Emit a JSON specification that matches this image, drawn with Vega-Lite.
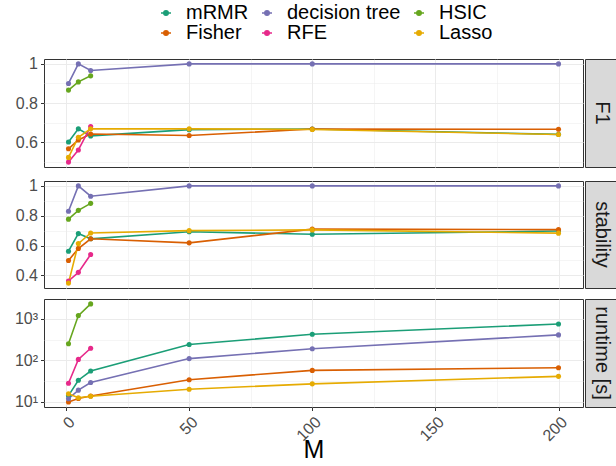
{
  "$schema": "https://vega.github.io/schema/vega-lite/v6.json",
  "padding": {"left": 13, "top": 3, "right": 1, "bottom": 2},
  "autosize": {"type": "pad"},
  "background": "white",
  "datasets": {
    "F1": [
      {"method": "mRMR", "M": 1, "value": 0.601}, {"method": "mRMR", "M": 5, "value": 0.668}, {"method": "mRMR", "M": 10, "value": 0.632}, {"method": "mRMR", "M": 50, "value": 0.664}, {"method": "mRMR", "M": 100, "value": 0.667}, {"method": "mRMR", "M": 200, "value": 0.640},
      {"method": "Fisher", "M": 1, "value": 0.566}, {"method": "Fisher", "M": 5, "value": 0.611}, {"method": "Fisher", "M": 10, "value": 0.642}, {"method": "Fisher", "M": 50, "value": 0.634}, {"method": "Fisher", "M": 100, "value": 0.667}, {"method": "Fisher", "M": 200, "value": 0.666},
      {"method": "decision tree", "M": 1, "value": 0.900}, {"method": "decision tree", "M": 5, "value": 1.0}, {"method": "decision tree", "M": 10, "value": 0.966}, {"method": "decision tree", "M": 50, "value": 1.0}, {"method": "decision tree", "M": 100, "value": 1.0}, {"method": "decision tree", "M": 200, "value": 1.0},
      {"method": "RFE", "M": 1, "value": 0.498}, {"method": "RFE", "M": 5, "value": 0.560}, {"method": "RFE", "M": 10, "value": 0.680},
      {"method": "HSIC", "M": 1, "value": 0.866}, {"method": "HSIC", "M": 5, "value": 0.908}, {"method": "HSIC", "M": 10, "value": 0.939},
      {"method": "Lasso", "M": 1, "value": 0.522}, {"method": "Lasso", "M": 5, "value": 0.625}, {"method": "Lasso", "M": 10, "value": 0.668}, {"method": "Lasso", "M": 50, "value": 0.668}, {"method": "Lasso", "M": 100, "value": 0.665}, {"method": "Lasso", "M": 200, "value": 0.639}
    ],
    "stability": [
      {"method": "mRMR", "M": 1, "value": 0.562}, {"method": "mRMR", "M": 5, "value": 0.680}, {"method": "mRMR", "M": 10, "value": 0.645}, {"method": "mRMR", "M": 50, "value": 0.692}, {"method": "mRMR", "M": 100, "value": 0.676}, {"method": "mRMR", "M": 200, "value": 0.697},
      {"method": "Fisher", "M": 1, "value": 0.500}, {"method": "Fisher", "M": 5, "value": 0.580}, {"method": "Fisher", "M": 10, "value": 0.645}, {"method": "Fisher", "M": 50, "value": 0.618}, {"method": "Fisher", "M": 100, "value": 0.710}, {"method": "Fisher", "M": 200, "value": 0.707},
      {"method": "decision tree", "M": 1, "value": 0.830}, {"method": "decision tree", "M": 5, "value": 1.0}, {"method": "decision tree", "M": 10, "value": 0.931}, {"method": "decision tree", "M": 50, "value": 1.0}, {"method": "decision tree", "M": 100, "value": 1.0}, {"method": "decision tree", "M": 200, "value": 1.0},
      {"method": "RFE", "M": 1, "value": 0.362}, {"method": "RFE", "M": 5, "value": 0.420}, {"method": "RFE", "M": 10, "value": 0.540},
      {"method": "HSIC", "M": 1, "value": 0.777}, {"method": "HSIC", "M": 5, "value": 0.836}, {"method": "HSIC", "M": 10, "value": 0.883},
      {"method": "Lasso", "M": 1, "value": 0.348}, {"method": "Lasso", "M": 5, "value": 0.613}, {"method": "Lasso", "M": 10, "value": 0.684}, {"method": "Lasso", "M": 50, "value": 0.700}, {"method": "Lasso", "M": 100, "value": 0.705}, {"method": "Lasso", "M": 200, "value": 0.683}
    ],
    "runtime": [
      {"method": "mRMR", "M": 1, "value": 14}, {"method": "mRMR", "M": 5, "value": 33}, {"method": "mRMR", "M": 10, "value": 55}, {"method": "mRMR", "M": 50, "value": 240}, {"method": "mRMR", "M": 100, "value": 425}, {"method": "mRMR", "M": 200, "value": 750},
      {"method": "Fisher", "M": 1, "value": 9.8}, {"method": "Fisher", "M": 5, "value": 12}, {"method": "Fisher", "M": 10, "value": 13.7}, {"method": "Fisher", "M": 50, "value": 34}, {"method": "Fisher", "M": 100, "value": 57}, {"method": "Fisher", "M": 200, "value": 66},
      {"method": "decision tree", "M": 1, "value": 11.8}, {"method": "decision tree", "M": 5, "value": 19}, {"method": "decision tree", "M": 10, "value": 29}, {"method": "decision tree", "M": 50, "value": 110}, {"method": "decision tree", "M": 100, "value": 190}, {"method": "decision tree", "M": 200, "value": 410},
      {"method": "RFE", "M": 1, "value": 28}, {"method": "RFE", "M": 5, "value": 105}, {"method": "RFE", "M": 10, "value": 195},
      {"method": "HSIC", "M": 1, "value": 250}, {"method": "HSIC", "M": 5, "value": 1200}, {"method": "HSIC", "M": 10, "value": 2300},
      {"method": "Lasso", "M": 1, "value": 15.5}, {"method": "Lasso", "M": 5, "value": 12.5}, {"method": "Lasso", "M": 10, "value": 13.5}, {"method": "Lasso", "M": 50, "value": 20}, {"method": "Lasso", "M": 100, "value": 27}, {"method": "Lasso", "M": 200, "value": 41}
    ],
    "strip1": [{"label": "F1"}],
    "strip2": [{"label": "stability"}],
    "strip3": [{"label": "runtime [s]"}]
  },
  "config": {
    "font": "Liberation Sans",
    "view": {"stroke": "#333333", "strokeWidth": 1},
    "axis": {
      "labelFont": "Liberation Sans",
      "labelFontSize": 16,
      "labelColor": "#4d4d4d",
      "tickColor": "#333333",
      "tickSize": 3.5,
      "labelPadding": 3,
      "domain": false,
      "gridColor": "#ebebeb",
      "titleFont": "Liberation Sans",
      "titleFontWeight": "normal",
      "titleColor": "#000000"
    },
    "legend": {
      "labelFont": "Liberation Sans"
    }
  },
  "columns": 2,
  "spacing": {"row": 9, "column": 0},
  "concat": [
    {
      "width": 539, "height": 108,
      "data": {"name": "F1"},
      "encoding": {
        "x": {"field": "M", "type": "quantitative",
          "scale": {"domain": [-8.95, 209.95], "nice": false, "zero": false},
          "axis": {"labels": false, "ticks": false, "title": null, "values": [0, 25, 50, 75, 100, 125, 150, 175, 200],
            "gridWidth": {"condition": {"test": "datum.value % 50 !== 0", "value": 0.5}, "value": 1}}},
        "y": {"field": "value", "type": "quantitative",
          "scale": {"domain": [0.473, 1.025], "nice": false, "zero": false},
          "axis": {"title": null, "values": [0.5, 0.6, 0.7, 0.8, 0.9, 1.0],
            "labelExpr": "round(datum.value*10) % 2 === 1 ? '' : (datum.value === 1 ? '1' : format(datum.value, '.1f'))",
            "tickOpacity": {"condition": {"test": "round(datum.value*10) % 2 === 1", "value": 0}, "value": 1},
            "gridWidth": {"condition": {"test": "round(datum.value*10) % 2 === 1", "value": 0.5}, "value": 1}}},
        "color": {"field": "method", "type": "nominal",
          "scale": {"domain": ["mRMR", "decision tree", "HSIC", "Fisher", "RFE", "Lasso"],
                    "range": ["#1B9E77", "#7570B3", "#66A61E", "#D95F02", "#E7298A", "#E6AB02"]},
          "legend": {"orient": "none", "legendX": 112, "legendY": -56, "direction": "horizontal", "columns": 3,
            "title": null, "labelFontSize": 20, "labelColor": "#000000", "labelOffset": 10,
            "symbolType": "M-1,0L1,0M-0.45,0A0.45,0.45,0,1,0,0.45,0A0.45,0.45,0,1,0,-0.45,0Z",
            "symbolSize": 100, "symbolStrokeWidth": 1.5, "rowPadding": 0, "columnPadding": 8, "padding": 0,
            "encode": {"symbols": {"update": {"fill": {"scale": "color", "field": "value"}, "stroke": {"scale": "color", "field": "value"}, "opacity": {"value": 1}, "fillOpacity": {"value": 1}}}}}}
      },
      "layer": [
        {"mark": {"type": "line", "strokeWidth": 1.6}},
        {"mark": {"type": "point", "filled": true, "size": 26, "opacity": 1}}
      ]
    },
    {
      "width": 33, "height": 108,
      "data": {"name": "strip1"},
      "view": {"fill": "#d9d9d9", "stroke": "#333333"},
      "mark": {"type": "text", "angle": 90, "fontSize": 20, "color": "#1a1a1a", "align": "center", "baseline": "middle", "font": "Liberation Sans"},
      "encoding": {"text": {"field": "label", "type": "nominal"}}
    },
    {
      "width": 539, "height": 107,
      "data": {"name": "stability"},
      "encoding": {
        "x": {"field": "M", "type": "quantitative",
          "scale": {"domain": [-8.95, 209.95], "nice": false, "zero": false},
          "axis": {"labels": false, "ticks": false, "title": null, "values": [0, 25, 50, 75, 100, 125, 150, 175, 200],
            "gridWidth": {"condition": {"test": "datum.value % 50 !== 0", "value": 0.5}, "value": 1}}},
        "y": {"field": "value", "type": "quantitative",
          "scale": {"domain": [0.315, 1.033], "nice": false, "zero": false},
          "axis": {"title": null, "values": [0.4, 0.5, 0.6, 0.7, 0.8, 0.9, 1.0],
            "labelExpr": "round(datum.value*10) % 2 === 1 ? '' : (datum.value === 1 ? '1' : format(datum.value, '.1f'))",
            "tickOpacity": {"condition": {"test": "round(datum.value*10) % 2 === 1", "value": 0}, "value": 1},
            "gridWidth": {"condition": {"test": "round(datum.value*10) % 2 === 1", "value": 0.5}, "value": 1}}},
        "color": {"field": "method", "type": "nominal"}
      },
      "layer": [
        {"mark": {"type": "line", "strokeWidth": 1.6}},
        {"mark": {"type": "point", "filled": true, "size": 26, "opacity": 1}}
      ]
    },
    {
      "width": 33, "height": 107,
      "data": {"name": "strip2"},
      "view": {"fill": "#d9d9d9", "stroke": "#333333"},
      "mark": {"type": "text", "angle": 90, "fontSize": 20, "color": "#1a1a1a", "align": "center", "baseline": "middle", "font": "Liberation Sans"},
      "encoding": {"text": {"field": "label", "type": "nominal"}}
    },
    {
      "width": 539, "height": 108,
      "data": {"name": "runtime"},
      "encoding": {
        "x": {"field": "M", "type": "quantitative", "title": "M",
          "scale": {"domain": [-8.95, 209.95], "nice": false, "zero": false},
          "axis": {"values": [0, 25, 50, 75, 100, 125, 150, 175, 200],
            "labelExpr": "datum.value % 50 === 0 ? datum.label : ''",
            "labelAngle": -45, "labelAlign": "right", "labelBaseline": "top",
            "titleFontSize": 25, "titlePadding": -6,
            "tickOpacity": {"condition": {"test": "datum.value % 50 !== 0", "value": 0}, "value": 1},
            "gridWidth": {"condition": {"test": "datum.value % 50 !== 0", "value": 0.5}, "value": 1}}},
        "y": {"field": "value", "type": "quantitative",
          "scale": {"type": "log", "domain": [7.45, 3020], "nice": false, "zero": false},
          "axis": {"title": null, "values": [10, 31.6228, 100, 316.228, 1000],
            "labelExpr": "datum.value === 10 ? '10¹' : datum.value === 100 ? '10²' : datum.value === 1000 ? '10³' : ''",
            "tickOpacity": {"condition": {"test": "datum.value === 10 || datum.value === 100 || datum.value === 1000", "value": 1}, "value": 0},
            "gridWidth": {"condition": {"test": "datum.value === 10 || datum.value === 100 || datum.value === 1000", "value": 1}, "value": 0.5}}},
        "color": {"field": "method", "type": "nominal"}
      },
      "layer": [
        {"mark": {"type": "line", "strokeWidth": 1.6}},
        {"mark": {"type": "point", "filled": true, "size": 26, "opacity": 1}}
      ]
    },
    {
      "width": 33, "height": 108,
      "data": {"name": "strip3"},
      "view": {"fill": "#d9d9d9", "stroke": "#333333"},
      "mark": {"type": "text", "angle": 90, "fontSize": 20, "color": "#1a1a1a", "align": "center", "baseline": "middle", "font": "Liberation Sans"},
      "encoding": {"text": {"field": "label", "type": "nominal"}}
    }
  ]
}
